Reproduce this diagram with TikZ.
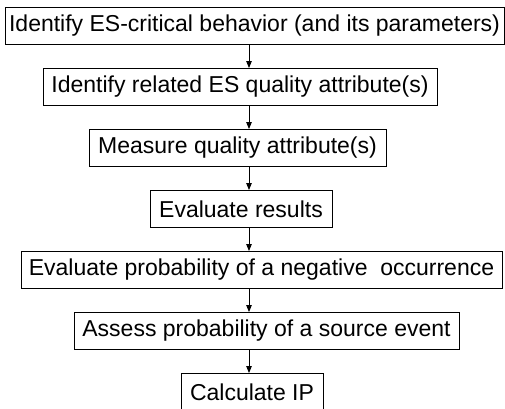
\documentclass[tikz,border=0pt]{standalone}
\usepackage{fontspec}
\setmainfont{Liberation Sans}
\usetikzlibrary{arrows.meta}
\begin{document}
\begin{tikzpicture}[x=1pt,y=-1pt,
    stepbox/.style={draw=black, line width=0.9pt, inner sep=0pt, minimum height=37pt,
      font=\fontsize{23}{27}\selectfont},
    flow/.style={line width=0.9pt, -{Triangle[length=7pt,width=5.5pt]}}]
                \useasboundingbox (0,0) rectangle (505,408);
                \coordinate (axis) at (249,0);

                \node[stepbox, minimum width=499pt] (crit) at (254.5,26) {Identify ES-critical behavior (and its parameters)};
                \node[stepbox, minimum width=394pt] (attr) at (240,87) {Identify related ES quality attribute(s)};
                \node[stepbox, minimum width=297pt] (meas) at (237.5,148) {Measure quality attribute(s)};
                \node[stepbox, minimum width=182pt] (eval) at (241,209) {Evaluate results};
                \node[stepbox, minimum width=481pt] (prob) at (261.5,270) {Evaluate probability of a negative\ \ occurrence};
                \node[stepbox, minimum width=385pt] (src) at (266.5,331) {Assess probability of a source event};
                \node[stepbox, minimum width=142pt] (ip) at (252,392) {Calculate IP};

                \draw[flow] (crit.south -| axis) -- (attr.north -| axis);
                \draw[flow] (attr.south -| axis) -- (meas.north -| axis);
                \draw[flow] (meas.south -| axis) -- (eval.north -| axis);
                \draw[flow] (eval.south -| axis) -- (prob.north -| axis);
                \draw[flow] (prob.south -| axis) -- (src.north -| axis);
                \draw[flow] (src.south -| axis) -- (ip.north -| axis);
            \end{tikzpicture}
\end{document}
